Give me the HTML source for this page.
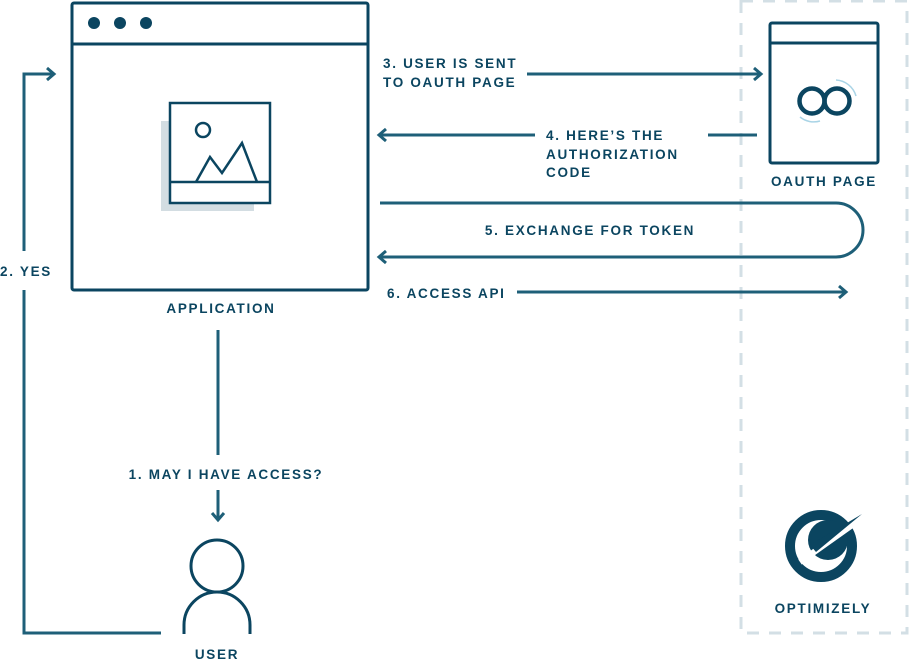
<!DOCTYPE html>
<html><head><meta charset="utf-8"><style>
html,body{margin:0;padding:0;background:#fff;width:910px;height:663px;overflow:hidden}
text{font-family:"Liberation Sans",sans-serif;font-weight:bold;fill:#0b4560;font-size:13.5px;letter-spacing:1.7px}
</style></head><body>
<svg width="910" height="663" viewBox="0 0 910 663" xmlns="http://www.w3.org/2000/svg">
<rect x="741" y="1" width="166" height="632" fill="none" stroke="#d3dfe5" stroke-width="3" stroke-dasharray="12,10"/>
<g fill="none" stroke="#0b4560" stroke-width="3">
<rect x="72" y="3" width="296" height="287" rx="2"/>
<line x1="72" y1="44" x2="368" y2="44"/>
</g>
<g fill="#0b4560"><circle cx="94" cy="23" r="6"/><circle cx="120" cy="23" r="6"/><circle cx="146" cy="23" r="6"/></g>
<rect x="161" y="121" width="93" height="90" fill="#d3dde2"/>
<g fill="none" stroke="#0b4560" stroke-width="2.5">
<rect x="170" y="103" width="100" height="100" fill="#fff"/>
<line x1="170" y1="182" x2="270" y2="182"/>
<circle cx="203" cy="130" r="7"/>
<polyline points="196,182 210,157 222,173 242,143 257,182"/>
</g>
<g fill="none" stroke="#1e5f78" stroke-width="3">
<polyline points="24,251 24,74 53,74"/>
<polyline points="47,68 54,74 47,80"/>
<polyline points="24,290 24,633 161,633"/>
<line x1="218" y1="330" x2="218" y2="455"/>
<line x1="218" y1="490" x2="218" y2="519"/>
<polyline points="212,513 218,520 224,513"/>
<line x1="527" y1="74" x2="761" y2="74"/>
<polyline points="754,68 761,74 754,80"/>
<line x1="535" y1="135" x2="379" y2="135"/>
<line x1="757" y1="135" x2="708" y2="135"/>
<polyline points="386,129 379,135 386,141"/>
<path d="M380 203 H836 A26 26 0 0 1 836 257 H379"/>
<polyline points="386,251 379,257 386,263"/>
<line x1="517" y1="292" x2="846" y2="292"/>
<polyline points="839,286 846,292 839,298"/>
</g>
<g fill="none" stroke="#0b4560" stroke-width="3">
<circle cx="217" cy="566" r="26"/>
<path d="M184 634 V625 A33 33 0 0 1 250 625 V634"/>
<rect x="770" y="23" width="108" height="140" rx="2"/>
<line x1="770" y1="43" x2="878" y2="43"/>
</g>
<g fill="none" stroke="#0b4560" stroke-width="4.5"><circle cx="812" cy="101" r="12.5"/><circle cx="837" cy="101" r="12.5"/></g>
<path d="M836 80 A22 22 0 0 1 856 96 M800 117 A22 22 0 0 0 820 121" stroke="#a9d4e6" stroke-width="1.5" fill="none"/>
<g>
<circle cx="821" cy="546" r="31" fill="none" stroke="#0b4560" stroke-width="10"/>
<circle cx="828" cy="540" r="20" fill="#0b4560"/>
<line x1="800" y1="562" x2="862" y2="518" stroke="#fff" stroke-width="6"/>
<path d="M810 545 L862 514 L816 552 Z" fill="#0b4560"/>
</g>
<text x="0" y="276">2. YES</text>
<text x="221" y="313" text-anchor="middle">APPLICATION</text>
<text x="226" y="479" text-anchor="middle">1. MAY I HAVE ACCESS?</text>
<text x="217" y="659" text-anchor="middle">USER</text>
<text x="383" y="68">3. USER IS SENT</text>
<text x="383" y="87">TO OAUTH PAGE</text>
<text x="546" y="140">4. HERE’S THE</text>
<text x="546" y="159">AUTHORIZATION</text>
<text x="546" y="177">CODE</text>
<text x="590" y="235" text-anchor="middle">5. EXCHANGE FOR TOKEN</text>
<text x="387" y="298">6. ACCESS API</text>
<text x="824" y="186" text-anchor="middle">OAUTH PAGE</text>
<text x="823" y="613" text-anchor="middle">OPTIMIZELY</text>
</svg>
</body></html>
